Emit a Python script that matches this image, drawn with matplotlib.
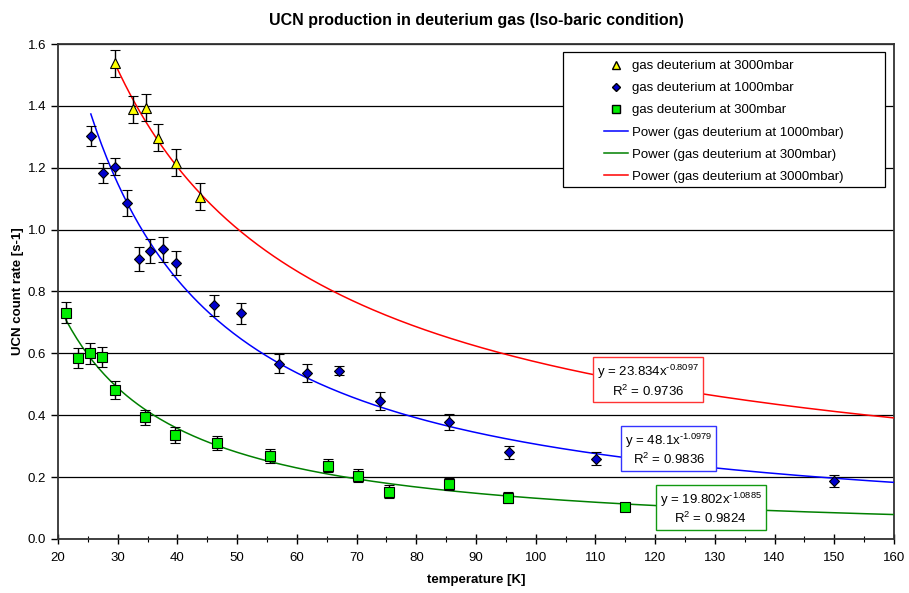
import numpy as np
import matplotlib.pyplot as plt
from matplotlib.lines import Line2D
from matplotlib.patches import Rectangle

plt.rcParams['font.family'] = ['Liberation Sans', 'DejaVu Sans']
plt.rcParams['mathtext.fontset'] = 'custom'
plt.rcParams['mathtext.rm'] = 'Liberation Sans'
plt.rcParams['mathtext.it'] = 'Liberation Sans'

# measured count rates, gas deuterium at 3000 mbar
T3000 = [29.5, 32.6, 34.7, 36.7, 39.7, 43.8]
R3000 = [1.537, 1.389, 1.394, 1.297, 1.216, 1.106]
E3000 = [0.043, 0.043, 0.044, 0.044, 0.043, 0.044]

# 1000 mbar
T1000 = [25.5, 27.5, 29.5, 31.5, 33.5, 35.4, 37.6, 39.7, 46.1, 50.6,
         57.0, 61.7, 67.0, 74.0, 85.5, 95.5, 110.1, 150.0]
R1000 = [1.303, 1.184, 1.203, 1.085, 0.905, 0.932, 0.936, 0.893, 0.755, 0.729,
         0.566, 0.537, 0.544, 0.446, 0.379, 0.280, 0.260, 0.188]
E1000 = [0.033, 0.032, 0.027, 0.042, 0.039, 0.039, 0.040, 0.039, 0.035, 0.034,
         0.031, 0.030, 0.015, 0.028, 0.026, 0.022, 0.020, 0.020]

# 300 mbar
T300 = [21.3, 23.4, 25.4, 27.4, 29.5, 34.6, 39.6, 46.6, 55.5, 65.2,
        70.3, 75.4, 85.5, 95.3, 115.0]
R300 = [0.731, 0.584, 0.600, 0.589, 0.482, 0.393, 0.336, 0.311, 0.268, 0.236,
        0.204, 0.152, 0.178, 0.134, 0.104]
E300 = [0.034, 0.032, 0.033, 0.032, 0.029, 0.025, 0.025, 0.023, 0.022, 0.021,
        0.021, 0.021, 0.020, 0.017, 0.013]

# power-law trendlines y = a * x^b, with R^2
fit3000 = (23.834, -0.8097, 0.9736)
fit1000 = (48.1, -1.0979, 0.9836)
fit300 = (19.802, -1.0885, 0.9824)

fig = plt.figure(figsize=(9.09, 5.93), dpi=100)
ax = fig.add_axes([0.0638, 0.0911, 0.9197, 0.8347])

ax.set_xlim(20, 160)
ax.set_ylim(0, 1.6)
ax.set_xticks(np.arange(20, 161, 10))
ax.set_xticks(np.arange(20, 161, 5), minor=True)
ax.set_yticks(np.arange(0, 1.61, 0.2))
ax.set_yticklabels(['%.1f' % v for v in np.arange(0, 1.61, 0.2)])
ax.tick_params(axis='x', which='major', direction='inout', length=7, width=1, labelsize=9.5, pad=6)
ax.tick_params(axis='x', which='minor', direction='inout', length=5, width=0.8)
ax.tick_params(axis='y', direction='out', length=5, width=1, labelsize=9.5)
ax.grid(axis='y', color='black', lw=0.9)
ax.set_axisbelow(True)
for s in ax.spines.values():
    s.set_color('#333333')
    s.set_linewidth(1.3)


def trend(fit, x0, c):
    a, b, _ = fit
    x = np.linspace(x0, 160, 300)
    ax.plot(x, a * x ** b, color=c, lw=1.1, zorder=3)


trend(fit1000, T1000[0], '#0000ff')
trend(fit300, T300[0], '#008000')
trend(fit3000, T3000[0], '#ff0000')

ekw = dict(ls='none', ecolor='black', elinewidth=1, capsize=3.5, capthick=1,
           markeredgecolor='black', markeredgewidth=0.8, zorder=4)
ax.errorbar(T3000, R3000, yerr=E3000, marker='^', ms=6.5, mfc='#ffff00', **ekw)
ax.errorbar(T1000, R1000, yerr=E1000, marker='D', ms=5, mfc='#0000cc', **ekw)
ax.errorbar(T300, R300, yerr=E300, marker='s', ms=6.5, mfc='#00ee00', **ekw)


def eqbox(fit, x, y, ec):
    a, b, r2 = fit
    txt = 'y = %g' % a + 'x$^{\\text{%.4f}}$\nR$^2$ = %.4f' % (b, r2)
    ax.text(x, y, txt, ha='center', va='center', fontsize=9.5, linespacing=1.15,
            bbox=dict(boxstyle='square,pad=0.3', fc='white', ec=ec, lw=1), zorder=6)


eqbox(fit3000, 118.8, 0.511, '#ff3333')
eqbox(fit1000, 122.3, 0.288, '#3333ff')
eqbox(fit300, 129.3, 0.099, '#119911')

# legend box drawn separately so the entries sit inset from its edges
ax.add_patch(Rectangle((0.604, 0.711), 0.385, 0.273, transform=ax.transAxes,
                       fc='white', ec='black', lw=0.9, zorder=7))
handles = [
    Line2D([], [], ls='none', marker='^', ms=6, mfc='#ffff00', mec='black'),
    Line2D([], [], ls='none', marker='D', ms=4.5, mfc='#0000cc', mec='black'),
    Line2D([], [], ls='none', marker='s', ms=5.5, mfc='#00ee00', mec='black'),
    Line2D([], [], color='#0000ff', lw=1.1),
    Line2D([], [], color='#008000', lw=1.1),
    Line2D([], [], color='#ff0000', lw=1.1),
]
labels = ['gas deuterium at 3000mbar', 'gas deuterium at 1000mbar',
          'gas deuterium at 300mbar', 'Power (gas deuterium at 1000mbar)',
          'Power (gas deuterium at 300mbar)', 'Power (gas deuterium at 3000mbar)']
leg = ax.legend(handles, labels, loc='upper left', bbox_to_anchor=(0.6435, 0.9838),
                fontsize=9.5, frameon=False, borderpad=0.6, labelspacing=0.75,
                handlelength=1.8, handletextpad=0.35, borderaxespad=0)
leg.set_zorder(8)

ax.set_title('UCN production in deuterium gas (Iso-baric condition)',
             fontsize=11.5, fontweight='bold', pad=14)
ax.set_xlabel('temperature [K]', fontsize=9.5, fontweight='bold', labelpad=7)
ax.set_ylabel('UCN count rate [s-1]', fontsize=9.5, fontweight='bold')
ax.yaxis.set_label_coords(-0.0407, 0.5)

fig.savefig('out.png', dpi=100)
